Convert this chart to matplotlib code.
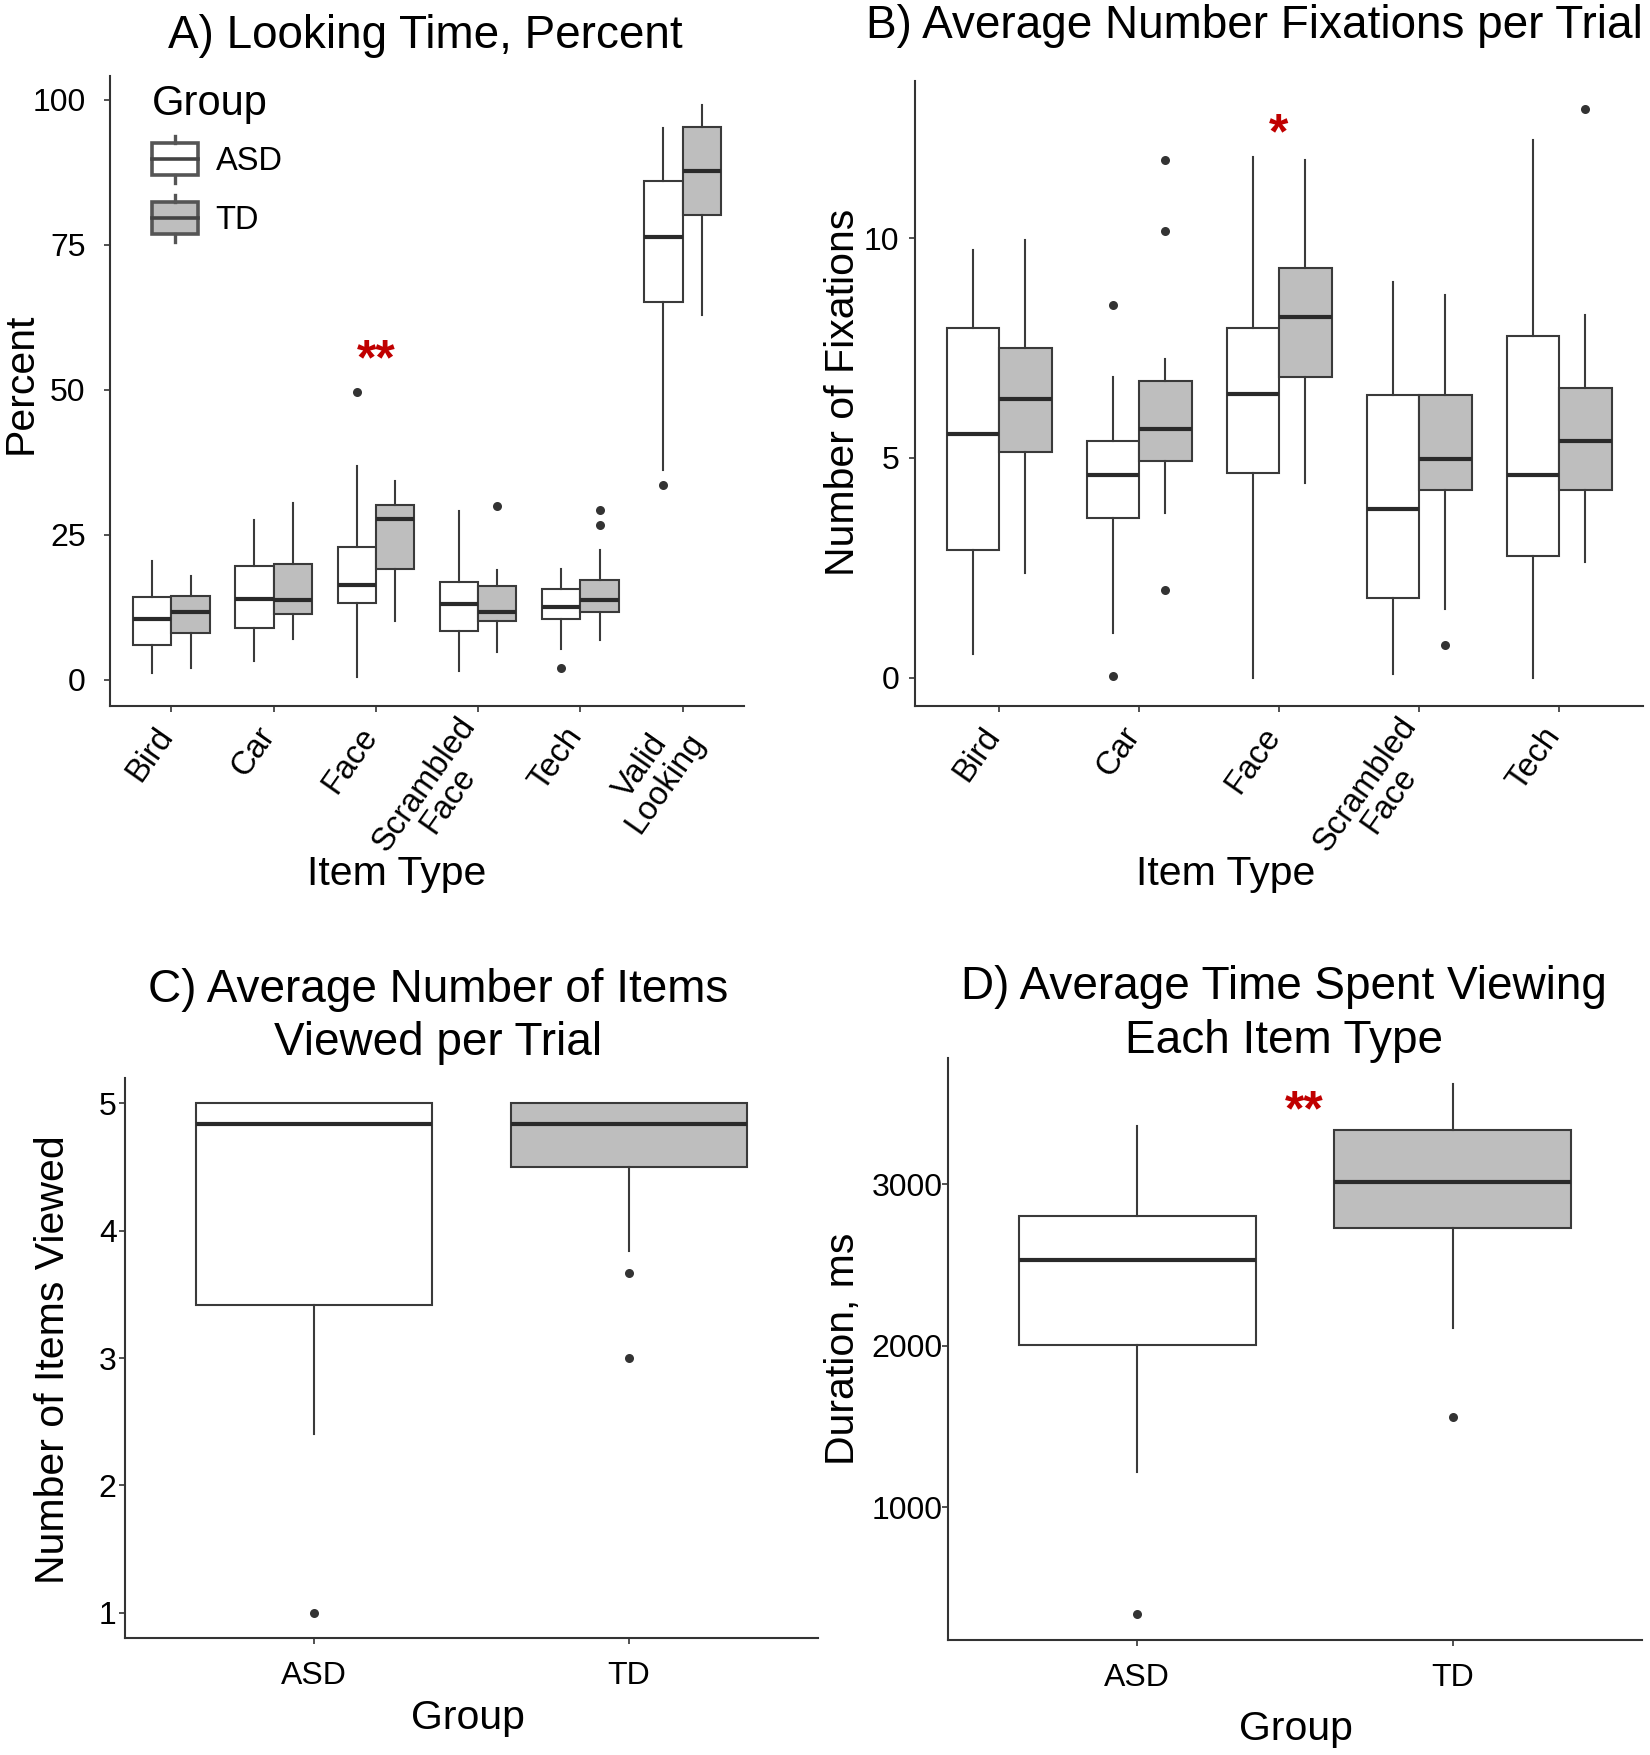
import matplotlib
matplotlib.use('Agg')
import matplotlib.pyplot as plt
from matplotlib.patches import Rectangle
from matplotlib.lines import Line2D
from matplotlib.legend_handler import HandlerBase
from matplotlib.transforms import offset_copy, ScaledTranslation

plt.rcParams['font.family'] = ['Liberation Sans', 'DejaVu Sans']

# ---------------- data ----------------
groups = ['ASD', 'TD']

cats_A = ['Bird', 'Car', 'Face', 'Scrambled\nFace', 'Tech', 'Valid\nLooking']
A_asd_q1 = [6.0, 8.9, 13.2, 8.4, 10.4, 65.1]
A_asd_med = [10.5, 14.0, 16.4, 13.0, 12.6, 76.4]
A_asd_q3 = [14.3, 19.6, 22.9, 16.8, 15.7, 86.0]
A_asd_lo = [1.1, 3.3, 0.4, 1.5, 5.3, 36.2]
A_asd_hi = [20.4, 27.5, 36.9, 29.1, 19.1, 95.1]
A_asd_out = [[], [], [49.7], [], [2.0], [33.6]]
A_td_q1 = [8.1, 11.3, 19.1, 10.2, 11.6, 80.2]
A_td_med = [11.6, 13.7, 27.8, 11.6, 13.7, 87.8]
A_td_q3 = [14.5, 20.0, 30.2, 16.1, 17.2, 95.4]
A_td_lo = [2.0, 7.1, 10.2, 4.7, 6.8, 62.9]
A_td_hi = [17.8, 30.4, 34.2, 19.0, 22.4, 99.2]
A_td_out = [[], [], [], [29.9], [29.2, 26.6], []]
A_yticks = [0, 25, 50, 75, 100]

cats_B = ['Bird', 'Car', 'Face', 'Scrambled\nFace', 'Tech']
B_asd_q1 = [2.90, 3.63, 4.65, 1.81, 2.77]
B_asd_med = [5.55, 4.60, 6.46, 3.83, 4.61]
B_asd_q3 = [7.95, 5.38, 7.95, 6.42, 7.78]
B_asd_lo = [0.53, 1.01, 0.0, 0.08, 0.0]
B_asd_hi = [9.73, 6.83, 11.85, 9.0, 12.24]
B_asd_out = [[], [8.47, 0.03], [], [], []]
B_td_q1 = [5.13, 4.93, 6.85, 4.27, 4.27]
B_td_med = [6.33, 5.66, 8.21, 4.98, 5.38]
B_td_q3 = [7.49, 6.76, 9.33, 6.44, 6.58]
B_td_lo = [2.39, 3.75, 4.42, 1.56, 2.62]
B_td_hi = [9.95, 7.24, 11.77, 8.71, 8.25]
B_td_out = [[], [11.79, 10.16, 2.0], [], [0.74], [12.93]]
B_yticks = [0, 5, 10]

C_q1 = [3.42, 4.50]
C_med = [4.84, 4.84]
C_q3 = [5.0, 5.0]
C_lo = [2.40, 3.84]
C_hi = [5.0, 5.0]
C_out = [[1.0], [3.67, 3.0]]
C_yticks = [1, 2, 3, 4, 5]

D_q1 = [2001, 2731]
D_med = [2533, 3014]
D_q3 = [2802, 3337]
D_lo = [1218, 2109]
D_hi = [3362, 3617]
D_out = [[341], [1557]]
D_yticks = [1000, 2000, 3000]

# significance marks: (x position, y value, text)
sig_A = (3, 56.9, '**')
sig_B = (3, 12.58, '*')
sig_D = (1.53, 3510, '**')

# ---------------- style ----------------
EDGE = '#3a3a3a'
AXC = '#333333'
FILL = {'ASD': 'white', 'TD': '#bebebe'}
RED = '#C00000'
STAR_SIZE = 36

W, H = 1650, 1755
fig = plt.figure(figsize=(16.5, 17.55), dpi=100)


def ax_at(left, top, right, bottom):
    return fig.add_axes([left / W, 1 - bottom / H, (right - left) / W, (bottom - top) / H])


def stats(q1, med, q3, lo, hi, out):
    return [dict(q1=a, med=b, q3=c, whislo=d, whishi=e, fliers=f)
            for a, b, c, d, e, f in zip(q1, med, q3, lo, hi, out)]


def draw(ax, st, positions, width, fc):
    ax.bxp(st, positions=positions, widths=width, patch_artist=True,
           showcaps=False, showfliers=True, manage_ticks=False,
           boxprops=dict(facecolor=fc, edgecolor=EDGE, linewidth=1.5),
           medianprops=dict(color='#2a2a2a', linewidth=3.0),
           whiskerprops=dict(color=EDGE, linewidth=1.5),
           flierprops=dict(marker='o', markerfacecolor='#333333',
                           markeredgecolor='none', markersize=6.5))


def ylimits(*arrs):
    vals = []
    for a in arrs:
        for v in a:
            if isinstance(v, list):
                vals.extend(v)
            else:
                vals.append(v)
    lo, hi = min(vals), max(vals)
    s = hi - lo
    return lo - 0.05 * s, hi + 0.05 * s


def style(ax, ypad, xsize=23, ysize=23):
    for s in ['top', 'right']:
        ax.spines[s].set_visible(False)
    for s in ['left', 'bottom']:
        ax.spines[s].set_color(AXC)
        ax.spines[s].set_linewidth(1.5)
    ax.tick_params(axis='both', colors=AXC, length=4.5, width=1.2)
    ax.tick_params(axis='y', labelsize=ysize, pad=ypad, labelcolor='black')
    ax.tick_params(axis='x', labelsize=xsize, labelcolor='black')


def star(ax, sig):
    # glyph centre placed at the data value
    tr = offset_copy(ax.transData, fig=fig, x=0, y=-0.48 * STAR_SIZE, units='points')
    ax.text(sig[0], sig[1], sig[2], color=RED, fontsize=STAR_SIZE,
            fontweight='bold', ha='center', va='baseline', transform=tr)


def dodge_panel(ax, cats, asd, td):
    n = len(cats)
    xs = list(range(1, n + 1))
    draw(ax, asd, [x - 0.1875 for x in xs], 0.375, FILL['ASD'])
    draw(ax, td, [x + 0.1875 for x in xs], 0.375, FILL['TD'])
    ax.set_xlim(0.4, n + 0.6)
    ax.set_xticks(xs)
    ax.set_xticklabels(cats, rotation=55, ha='right', va='center',
                       rotation_mode='anchor', multialignment='center',
                       fontsize=23.5, linespacing=0.95)
    ax.tick_params(axis='x', pad=13)
    one_line = ScaledTranslation(-0.05, 0.0, fig.dpi_scale_trans)
    two_line = ScaledTranslation(0.03, 0.02, fig.dpi_scale_trans)
    for lab, c in zip(ax.get_xticklabels(), cats):
        sh = two_line if '\n' in c else one_line
        lab.set_transform(lab.get_transform() + sh)


# ---------------- Panel A ----------------
axA = ax_at(110, 76, 744, 706)
stA_asd = stats(A_asd_q1, A_asd_med, A_asd_q3, A_asd_lo, A_asd_hi, A_asd_out)
stA_td = stats(A_td_q1, A_td_med, A_td_q3, A_td_lo, A_td_hi, A_td_out)
style(axA, ypad=13)
dodge_panel(axA, cats_A, stA_asd, stA_td)
axA.set_ylim(*ylimits(A_asd_lo, A_asd_hi, A_td_lo, A_td_hi, A_asd_out, A_td_out))
axA.set_yticks(A_yticks)
star(axA, sig_A)


class BoxKey(HandlerBase):
    def create_artists(self, legend, orig_handle, xdescent, ydescent,
                       width, height, fontsize, trans):
        x0, y0 = -xdescent, -ydescent
        stub = height * 0.16
        fc = orig_handle.get_facecolor()
        r = Rectangle((x0, y0 + stub), width, height - 2 * stub, facecolor=fc,
                      edgecolor='#555555', lw=2.6, transform=trans)
        cx, cy = x0 + width / 2, y0 + height / 2
        m = Line2D([x0, x0 + width], [cy, cy], color='#444444', lw=2.6, transform=trans)
        w1 = Line2D([cx, cx], [y0 + height - stub, y0 + height], color='#555555', lw=2.4, transform=trans)
        w2 = Line2D([cx, cx], [y0, y0 + stub], color='#555555', lw=2.4, transform=trans)
        return [r, m, w1, w2]


handles = [Rectangle((0, 0), 1, 1, facecolor=FILL[g]) for g in groups]
leg = axA.legend(handles, groups, handler_map={Rectangle: BoxKey()},
                 loc='upper left', bbox_to_anchor=(0.066, 0.987),
                 frameon=False, fontsize=23.5, title='Group', title_fontsize=30,
                 alignment='left', handlelength=1.4, handleheight=1.84,
                 labelspacing=0.36, handletextpad=0.55, borderpad=0,
                 borderaxespad=0)

# ---------------- Panel B ----------------
axB = ax_at(915, 81, 1643, 706)
stB_asd = stats(B_asd_q1, B_asd_med, B_asd_q3, B_asd_lo, B_asd_hi, B_asd_out)
stB_td = stats(B_td_q1, B_td_med, B_td_q3, B_td_lo, B_td_hi, B_td_out)
style(axB, ypad=7)
dodge_panel(axB, cats_B, stB_asd, stB_td)
axB.set_ylim(*ylimits(B_asd_lo, B_asd_hi, B_td_lo, B_td_hi, B_asd_out, B_td_out))
axB.set_yticks(B_yticks)
star(axB, sig_B)

# ---------------- Panel C ----------------
axC = ax_at(125, 1078, 818, 1638)
stC = stats(C_q1, C_med, C_q3, C_lo, C_hi, C_out)
style(axC, ypad=1.5)
for i, g in enumerate(groups):
    draw(axC, [stC[i]], [i + 1], 0.75, FILL[g])
axC.set_xlim(0.4, 2.6)
axC.set_ylim(*ylimits(C_lo, C_hi, C_out))
axC.set_yticks(C_yticks)
axC.set_xticks([1, 2])
axC.set_xticklabels(groups)
axC.tick_params(axis='x', pad=12)

# ---------------- Panel D ----------------
axD = ax_at(948, 1058, 1642, 1640)
stD = stats(D_q1, D_med, D_q3, D_lo, D_hi, D_out)
style(axD, ypad=-0.5)
for i, g in enumerate(groups):
    draw(axD, [stD[i]], [i + 1], 0.75, FILL[g])
axD.set_xlim(0.4, 2.6)
axD.set_ylim(*ylimits(D_lo, D_hi, D_out))
axD.set_yticks(D_yticks)
axD.set_xticks([1, 2])
axD.set_xticklabels(groups)
axD.tick_params(axis='x', pad=12)
star(axD, sig_D)

# ---------------- titles & labels ----------------
def ftext(x, y, s, size, rot=0):
    fig.text(x / W, 1 - y / H, s, fontsize=size, rotation=rot,
             ha='center', va='center')

TS = 33
ftext(425, 36, 'A) Looking Time, Percent', TS)
ftext(1254, 26, 'B) Average Number Fixations per Trial', TS)
ftext(438, 990, 'C) Average Number of Items', TS)
ftext(438, 1043, 'Viewed per Trial', TS)
ftext(1284, 987, 'D) Average Time Spent Viewing', TS)
ftext(1284, 1041, 'Each Item Type', TS)

LS = 29.5
ftext(397, 874, 'Item Type', LS)
ftext(1226, 874, 'Item Type', LS)
ftext(468, 1718, 'Group', LS)
ftext(1296, 1729, 'Group', LS)
ftext(21, 383, 'Percent', LS, 90)
ftext(843, 392, 'Number of Fixations', LS, 90)
ftext(53, 1360, 'Number of Items Viewed', LS, 90)
ftext(843, 1349, 'Duration, ms', LS, 90)

fig.savefig('out.png', dpi=100)
